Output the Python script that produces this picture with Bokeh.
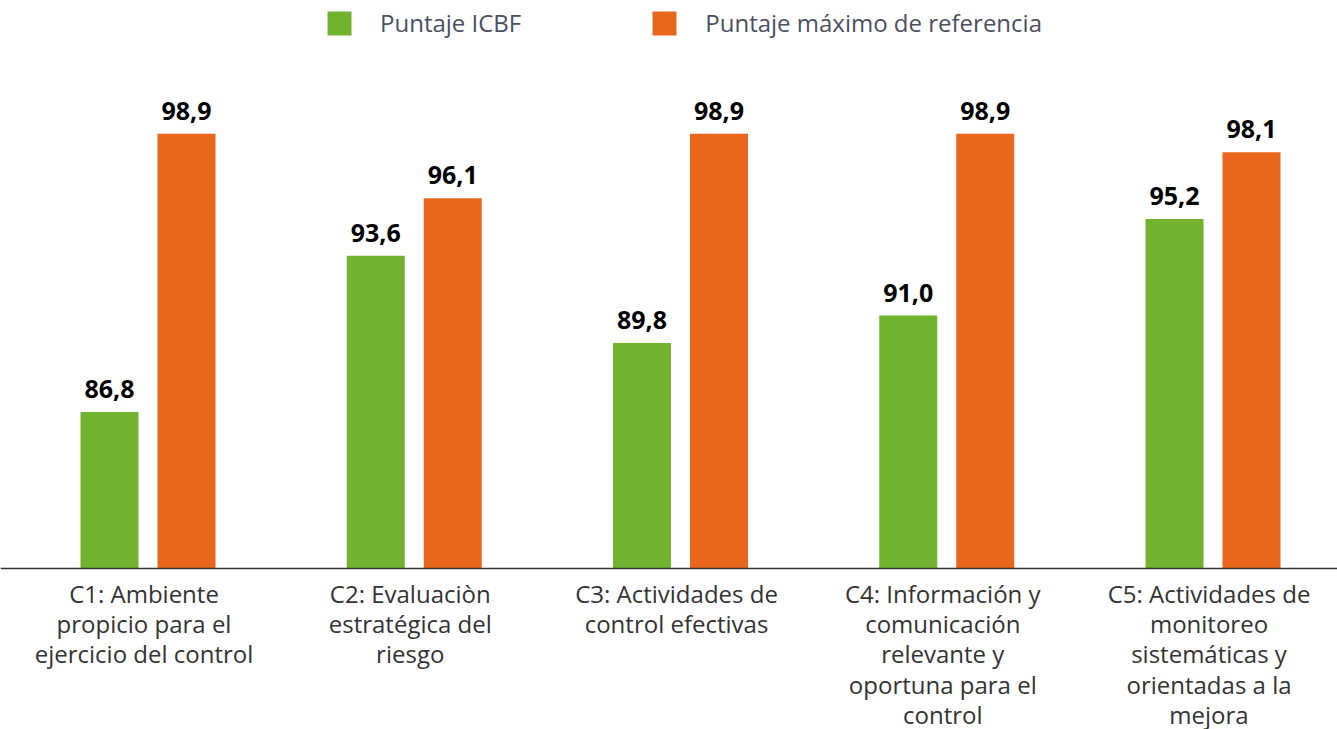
from bokeh.plotting import figure
from bokeh.models import ColumnDataSource, Range1d, Span, Legend, LegendItem
from bokeh.core.properties import value
from bokeh.embed import file_html
from bokeh.resources import INLINE

categories = [
    "C1: Ambiente\npropicio para el\nejercicio del control",
    "C2: Evaluaciòn\nestratégica del\nriesgo",
    "C3: Actividades de\ncontrol efectivas",
    "C4: Información y\ncomunicación\nrelevante y\noportuna para el\ncontrol",
    "C5: Actividades de\nmonitoreo\nsistemáticas y\norientadas a la\nmejora",
]
puntaje_icbf = [86.8, 93.6, 89.8, 91.0, 95.2]
puntaje_max = [98.9, 96.1, 98.9, 98.9, 98.1]
series_names = ["Puntaje ICBF", "Puntaje máximo de referencia"]

GREEN = "#71B32F"
ORANGE = "#E8671A"
FONT = "Open Sans"

W, H = 1337, 729
BASE_PX = 568
px_per_cat = 266.25
px_per_unit = 23.0
x_start = -147.5 / px_per_cat
x_end = x_start + W / px_per_cat
y_base = 80.0
y_end = y_base + BASE_PX / px_per_unit
y_start = y_base - (H - BASE_PX) / px_per_unit

dodge = 38.5 / px_per_cat
bar_w = 58 / px_per_cat

idx = list(range(len(categories)))
fmt = lambda v: f"{v:.1f}".replace(".", ",")
src_g = ColumnDataSource(dict(x=[i - dodge for i in idx], top=puntaje_icbf,
                              lab=[fmt(v) for v in puntaje_icbf]))
src_o = ColumnDataSource(dict(x=[i + dodge for i in idx], top=puntaje_max,
                              lab=[fmt(v) for v in puntaje_max]))
src_c = ColumnDataSource(dict(x=[i - 0.015 for i in idx], y=[y_base] * len(idx),
                              text=categories))

p = figure(width=W, height=H, output_backend="svg", toolbar_location=None,
           x_range=Range1d(x_start, x_end), y_range=Range1d(y_start, y_end),
           x_axis_location=None, y_axis_location=None,
           min_border=0, min_border_left=0, min_border_right=0,
           min_border_top=0, min_border_bottom=0)
p.outline_line_color = None
p.xgrid.visible = False
p.ygrid.visible = False
p.background_fill_color = "white"
p.border_fill_color = "white"

rg = p.vbar(x="x", top="top", bottom=y_base, width=bar_w, source=src_g,
            fill_color=GREEN, line_color=None)
ro = p.vbar(x="x", top="top", bottom=y_base, width=bar_w, source=src_o,
            fill_color=ORANGE, line_color=None)

for src in (src_g, src_o):
    p.text(x="x", y="top", text="lab", source=src, text_align="center",
           text_baseline="alphabetic", y_offset=-23,
           text_font=value(FONT), text_font_style="bold",
           text_font_size="25px", text_color="#000000")

p.text(x="x", y="y", text="text", source=src_c, text_align="center",
       text_baseline="top", y_offset=8, text_line_height=0.92,
       text_font=value(FONT), text_font_size="24px", text_color="#333333")

p.add_layout(Span(location=y_base, dimension="width", line_color="#333333",
                  line_width=1.5))

legend = Legend(items=[LegendItem(label=series_names[0], renderers=[rg]),
                       LegendItem(label=series_names[1], renderers=[ro])],
                orientation="horizontal", location=(324, H - 39),
                glyph_width=30, glyph_height=30, label_standoff=26,
                spacing=128, padding=0, margin=0,
                border_line_color=None, background_fill_alpha=0,
                label_text_font=FONT, label_text_font_size="24px",
                label_text_color="#4B5060", label_height=30)
p.add_layout(legend)

open("out.html", "w").write(file_html(p, INLINE))
